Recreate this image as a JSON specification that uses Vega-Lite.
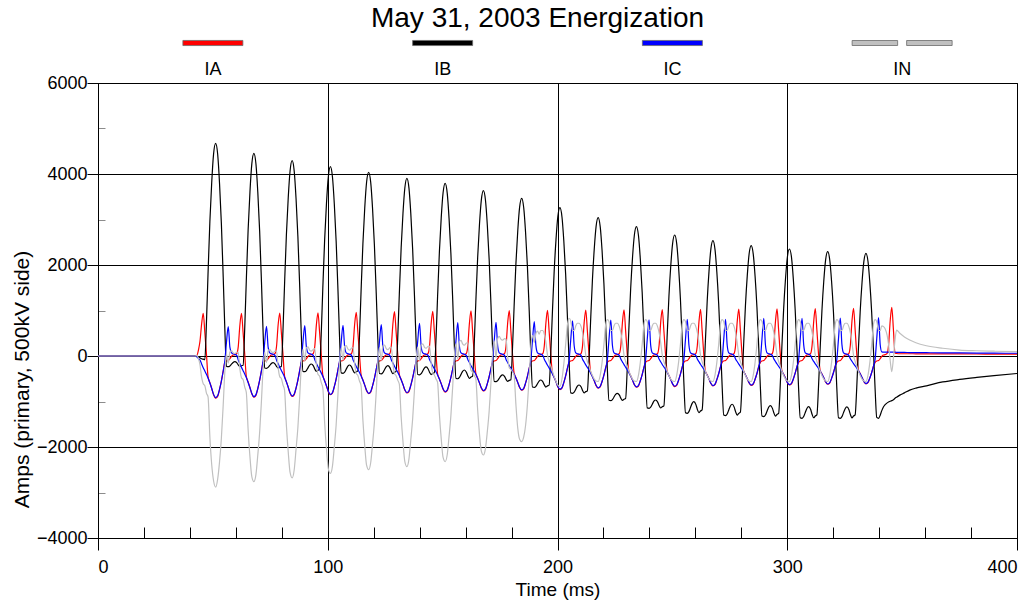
{
"$schema": "https://vega.github.io/schema/vega-lite/v6.json",
"autosize": {"type": "pad"},
"padding": {"left": 10, "top": 5, "right": 0, "bottom": 0},
"background": "white",
"bounds": "flush",
"title": {"text": "May 31, 2003 Energization", "font": "Liberation Sans", "fontSize": 28, "fontWeight": "normal", "color": "black", "anchor": "middle", "frame": "group", "offset": 5, "dx": -20},
"spacing": 0,
"datasets": {
"wave": [
{"t":0,"IA":0,"IB":0,"IC":0,"IN":0},
{"t":42.5,"IA":0,"IB":0,"IC":0,"IN":0},
{"t":42.9,"IA":0,"IB":-10,"IC":-10,"IN":20},
{"t":43.8,"IA":150,"IB":-20,"IC":-60,"IN":-70},
{"t":44.4,"IA":330,"IB":-40,"IC":-92,"IN":-198},
{"t":45.1,"IA":700,"IB":-60,"IC":-174,"IN":-466},
{"t":45.8,"IA":938,"IB":-70,"IC":-256,"IN":-612},
{"t":46.5,"IA":516,"IB":-80,"IC":-330,"IN":-652},
{"t":47.2,"IA":47,"IB":728,"IC":-403,"IN":-816},
{"t":47.9,"IA":-458,"IB":1822,"IC":-485,"IN":-900},
{"t":48.7,"IA":-586,"IB":2963,"IC":-595,"IN":-1782},
{"t":49.5,"IA":-714,"IB":3819,"IC":-714,"IN":-2391},
{"t":50.3,"IA":-852,"IB":4437,"IC":-843,"IN":-2742},
{"t":51.2,"IA":-925,"IB":4675,"IC":-916,"IN":-2880},
{"t":52.1,"IA":-889,"IB":4430,"IC":-870,"IN":-2700},
{"t":52.9,"IA":-733,"IB":3792,"IC":-733,"IN":-2326},
{"t":53.7,"IA":-550,"IB":2909,"IC":-550,"IN":-1809},
{"t":54.5,"IA":-330,"IB":1732,"IC":-330,"IN":-1072},
{"t":55.2,"IA":-140,"IB":604,"IC":-110,"IN":-354},
{"t":55.9,"IA":-110,"IB":-230,"IC":290,"IN":50},
{"t":56.7,"IA":-100,"IB":-235,"IC":645,"IN":-155},
{"t":57.4,"IA":-60,"IB":-219,"IC":194,"IN":85},
{"t":58.1,"IA":-10,"IB":-180,"IC":70,"IN":120},
{"t":58.8,"IA":20,"IB":-142,"IC":50,"IN":72},
{"t":59.55,"IA":30,"IB":-125,"IC":40,"IN":55},
{"t":60.45,"IA":60,"IB":-152,"IC":10,"IN":82},
{"t":61.05,"IA":207,"IB":-196,"IC":-89,"IN":78},
{"t":61.75,"IA":677,"IB":-230,"IC":-170,"IN":-277},
{"t":62.45,"IA":940,"IB":-213,"IC":-250,"IN":-477},
{"t":63.15,"IA":517,"IB":-202,"IC":-322,"IN":-517},
{"t":63.85,"IA":47,"IB":590,"IC":-393,"IN":-679},
{"t":64.55,"IA":-447,"IB":1661,"IC":-474,"IN":-800},
{"t":65.35,"IA":-572,"IB":2778,"IC":-581,"IN":-1625},
{"t":66.15,"IA":-697,"IB":3617,"IC":-697,"IN":-2223},
{"t":66.95,"IA":-831,"IB":4222,"IC":-822,"IN":-2650},
{"t":67.85,"IA":-903,"IB":4455,"IC":-894,"IN":-2760},
{"t":68.75,"IA":-867,"IB":4219,"IC":-849,"IN":-2600},
{"t":69.55,"IA":-715,"IB":3606,"IC":-715,"IN":-2176},
{"t":70.35,"IA":-536,"IB":2756,"IC":-536,"IN":-1684},
{"t":71.15,"IA":-322,"IB":1624,"IC":-322,"IN":-980},
{"t":71.85,"IA":-140,"IB":538,"IC":-107,"IN":-291},
{"t":72.55,"IA":-110,"IB":-264,"IC":293,"IN":81},
{"t":73.35,"IA":-100,"IB":-270,"IC":650,"IN":-140},
{"t":74.05,"IA":-60,"IB":-251,"IC":195,"IN":116},
{"t":74.75,"IA":-10,"IB":-208,"IC":70,"IN":148},
{"t":75.45,"IA":20,"IB":-164,"IC":50,"IN":94},
{"t":76.2,"IA":30,"IB":-145,"IC":40,"IN":75},
{"t":77.1,"IA":60,"IB":-176,"IC":10,"IN":106},
{"t":77.7,"IA":208,"IB":-226,"IC":-88,"IN":106},
{"t":78.4,"IA":680,"IB":-264,"IC":-167,"IN":-249},
{"t":79.1,"IA":945,"IB":-245,"IC":-246,"IN":-454},
{"t":79.8,"IA":520,"IB":-232,"IC":-317,"IN":-494},
{"t":80.5,"IA":47,"IB":537,"IC":-387,"IN":-633},
{"t":81.2,"IA":-440,"IB":1578,"IC":-466,"IN":-750},
{"t":82.0,"IA":-563,"IB":2664,"IC":-572,"IN":-1529},
{"t":82.8,"IA":-686,"IB":3479,"IC":-686,"IN":-2107},
{"t":83.6,"IA":-818,"IB":4067,"IC":-810,"IN":-2560},
{"t":84.5,"IA":-889,"IB":4293,"IC":-880,"IN":-2680},
{"t":85.4,"IA":-854,"IB":4062,"IC":-836,"IN":-2500},
{"t":86.2,"IA":-704,"IB":3460,"IC":-704,"IN":-2052},
{"t":87.0,"IA":-528,"IB":2626,"IC":-528,"IN":-1570},
{"t":87.8,"IA":-317,"IB":1515,"IC":-317,"IN":-881},
{"t":88.5,"IA":-140,"IB":450,"IC":-106,"IN":-204},
{"t":89.2,"IA":-110,"IB":-337,"IC":300,"IN":147},
{"t":90.0,"IA":-100,"IB":-345,"IC":667,"IN":-111},
{"t":90.7,"IA":-60,"IB":-320,"IC":200,"IN":180},
{"t":91.4,"IA":-10,"IB":-260,"IC":70,"IN":200},
{"t":92.1,"IA":20,"IB":-201,"IC":50,"IN":131},
{"t":92.85,"IA":30,"IB":-176,"IC":40,"IN":106},
{"t":93.75,"IA":60,"IB":-218,"IC":10,"IN":148},
{"t":94.35,"IA":209,"IB":-286,"IC":-84,"IN":161},
{"t":95.05,"IA":684,"IB":-337,"IC":-160,"IN":-187},
{"t":95.75,"IA":950,"IB":-311,"IC":-236,"IN":-403},
{"t":96.45,"IA":523,"IB":-294,"IC":-303,"IN":-443},
{"t":97.15,"IA":48,"IB":463,"IC":-371,"IN":-581},
{"t":97.85,"IA":-422,"IB":1488,"IC":-447,"IN":-700},
{"t":98.65,"IA":-540,"IB":2557,"IC":-548,"IN":-1469},
{"t":99.45,"IA":-658,"IB":3359,"IC":-658,"IN":-2043},
{"t":100.25,"IA":-784,"IB":3938,"IC":-776,"IN":-2480},
{"t":101.15,"IA":-851,"IB":4161,"IC":-843,"IN":-2580},
{"t":102.05,"IA":-818,"IB":3934,"IC":-801,"IN":-2420},
{"t":102.85,"IA":-674,"IB":3345,"IC":-674,"IN":-1997},
{"t":103.65,"IA":-506,"IB":2529,"IC":-506,"IN":-1517},
{"t":104.45,"IA":-303,"IB":1442,"IC":-303,"IN":-836},
{"t":105.15,"IA":-140,"IB":399,"IC":-101,"IN":-158},
{"t":105.85,"IA":-110,"IB":-371,"IC":304,"IN":177},
{"t":106.65,"IA":-100,"IB":-380,"IC":675,"IN":-98},
{"t":107.35,"IA":-60,"IB":-353,"IC":203,"IN":210},
{"t":108.05,"IA":-10,"IB":-289,"IC":70,"IN":229},
{"t":108.75,"IA":20,"IB":-225,"IC":50,"IN":155},
{"t":109.5,"IA":30,"IB":-198,"IC":40,"IN":128},
{"t":110.4,"IA":60,"IB":-244,"IC":10,"IN":174},
{"t":111.0,"IA":211,"IB":-316,"IC":-82,"IN":187},
{"t":111.7,"IA":691,"IB":-371,"IC":-156,"IN":-164},
{"t":112.4,"IA":960,"IB":-344,"IC":-230,"IN":-386},
{"t":113.1,"IA":528,"IB":-325,"IC":-295,"IN":-426},
{"t":113.8,"IA":48,"IB":417,"IC":-361,"IN":-550},
{"t":114.5,"IA":-410,"IB":1420,"IC":-435,"IN":-650},
{"t":115.3,"IA":-525,"IB":2467,"IC":-533,"IN":-1409},
{"t":116.1,"IA":-640,"IB":3252,"IC":-640,"IN":-1972},
{"t":116.9,"IA":-763,"IB":3819,"IC":-754,"IN":-2400},
{"t":117.8,"IA":-828,"IB":4037,"IC":-820,"IN":-2500},
{"t":118.7,"IA":-795,"IB":3816,"IC":-779,"IN":-2340},
{"t":119.5,"IA":-656,"IB":3241,"IC":-656,"IN":-1929},
{"t":120.3,"IA":-492,"IB":2445,"IC":-492,"IN":-1461},
{"t":121.1,"IA":-295,"IB":1383,"IC":-295,"IN":-793},
{"t":121.8,"IA":-140,"IB":366,"IC":-98,"IN":-128},
{"t":122.5,"IA":-110,"IB":-386,"IC":311,"IN":185},
{"t":123.3,"IA":-100,"IB":-395,"IC":690,"IN":-98},
{"t":124.0,"IA":-60,"IB":-367,"IC":207,"IN":220},
{"t":124.7,"IA":-10,"IB":-302,"IC":70,"IN":242},
{"t":125.4,"IA":20,"IB":-238,"IC":50,"IN":168},
{"t":126.15,"IA":30,"IB":-210,"IC":40,"IN":140},
{"t":127.05,"IA":60,"IB":-256,"IC":10,"IN":186},
{"t":127.65,"IA":215,"IB":-330,"IC":-81,"IN":196},
{"t":128.35,"IA":702,"IB":-386,"IC":-153,"IN":-163},
{"t":129.05,"IA":975,"IB":-358,"IC":-225,"IN":-392},
{"t":129.75,"IA":536,"IB":-339,"IC":-290,"IN":-432},
{"t":130.45,"IA":49,"IB":382,"IC":-354,"IN":-531},
{"t":131.15,"IA":-403,"IB":1359,"IC":-427,"IN":-620},
{"t":131.95,"IA":-515,"IB":2377,"IC":-523,"IN":-1339},
{"t":132.75,"IA":-628,"IB":3141,"IC":-628,"IN":-1885},
{"t":133.55,"IA":-749,"IB":3693,"IC":-741,"IN":-2320},
{"t":134.45,"IA":-813,"IB":3905,"IC":-805,"IN":-2430},
{"t":135.35,"IA":-781,"IB":3689,"IC":-765,"IN":-2260},
{"t":136.15,"IA":-644,"IB":3129,"IC":-644,"IN":-1841},
{"t":136.95,"IA":-483,"IB":2352,"IC":-483,"IN":-1386},
{"t":137.75,"IA":-290,"IB":1317,"IC":-290,"IN":-737},
{"t":138.45,"IA":-140,"IB":325,"IC":-97,"IN":-88},
{"t":139.15,"IA":-110,"IB":-408,"IC":323,"IN":195},
{"t":139.95,"IA":-100,"IB":-417,"IC":718,"IN":-100},
{"t":140.65,"IA":-60,"IB":-390,"IC":215,"IN":235},
{"t":141.35,"IA":-10,"IB":-328,"IC":70,"IN":268},
{"t":142.05,"IA":20,"IB":-267,"IC":50,"IN":197},
{"t":142.8,"IA":30,"IB":-240,"IC":40,"IN":170},
{"t":143.7,"IA":60,"IB":-284,"IC":10,"IN":214},
{"t":144.3,"IA":216,"IB":-355,"IC":-79,"IN":218},
{"t":145.0,"IA":706,"IB":-408,"IC":-149,"IN":-149},
{"t":145.7,"IA":980,"IB":-382,"IC":-220,"IN":-378},
{"t":146.4,"IA":539,"IB":-364,"IC":-283,"IN":-418},
{"t":147.1,"IA":49,"IB":343,"IC":-345,"IN":-505},
{"t":147.8,"IA":-393,"IB":1300,"IC":-416,"IN":-580},
{"t":148.6,"IA":-502,"IB":2298,"IC":-510,"IN":-1286},
{"t":149.4,"IA":-612,"IB":3046,"IC":-612,"IN":-1822},
{"t":150.2,"IA":-730,"IB":3587,"IC":-722,"IN":-2230},
{"t":151.1,"IA":-793,"IB":3795,"IC":-785,"IN":-2320},
{"t":152.0,"IA":-761,"IB":3581,"IC":-746,"IN":-2170},
{"t":152.8,"IA":-628,"IB":3024,"IC":-628,"IN":-1768},
{"t":153.6,"IA":-471,"IB":2252,"IC":-471,"IN":-1310},
{"t":154.4,"IA":-283,"IB":1224,"IC":-283,"IN":-658},
{"t":155.1,"IA":-140,"IB":238,"IC":-94,"IN":-4},
{"t":155.8,"IA":-110,"IB":-490,"IC":330,"IN":270},
{"t":156.6,"IA":-100,"IB":-500,"IC":733,"IN":-67},
{"t":157.3,"IA":-60,"IB":-471,"IC":220,"IN":311},
{"t":158.0,"IA":-10,"IB":-404,"IC":70,"IN":344},
{"t":158.7,"IA":20,"IB":-337,"IC":50,"IN":267},
{"t":159.45,"IA":30,"IB":-308,"IC":40,"IN":238},
{"t":160.35,"IA":60,"IB":-356,"IC":10,"IN":286},
{"t":160.95,"IA":218,"IB":-433,"IC":-76,"IN":291},
{"t":161.65,"IA":713,"IB":-490,"IC":-144,"IN":-79},
{"t":162.35,"IA":990,"IB":-462,"IC":-213,"IN":-315},
{"t":163.05,"IA":545,"IB":-442,"IC":-274,"IN":-355},
{"t":163.75,"IA":50,"IB":251,"IC":-334,"IN":-430},
{"t":164.45,"IA":-380,"IB":1188,"IC":-403,"IN":-500},
{"t":165.25,"IA":-486,"IB":2167,"IC":-494,"IN":-1187},
{"t":166.05,"IA":-593,"IB":2900,"IC":-593,"IN":-1714},
{"t":166.85,"IA":-707,"IB":3430,"IC":-699,"IN":-2090},
{"t":167.75,"IA":-768,"IB":3634,"IC":-760,"IN":-2176},
{"t":168.65,"IA":-737,"IB":3424,"IC":-722,"IN":-2030},
{"t":169.45,"IA":-608,"IB":2879,"IC":-608,"IN":-1663},
{"t":170.25,"IA":-456,"IB":2125,"IC":-456,"IN":-1213},
{"t":171.05,"IA":-274,"IB":1119,"IC":-274,"IN":-571},
{"t":171.75,"IA":-140,"IB":155,"IC":-91,"IN":76},
{"t":172.45,"IA":-110,"IB":-558,"IC":333,"IN":335},
{"t":173.25,"IA":-100,"IB":-565,"IC":740,"IN":-38},
{"t":173.95,"IA":-60,"IB":-543,"IC":222,"IN":381},
{"t":174.65,"IA":-10,"IB":-491,"IC":70,"IN":431},
{"t":175.35,"IA":20,"IB":-439,"IC":50,"IN":369},
{"t":176.1,"IA":30,"IB":-417,"IC":40,"IN":347},
{"t":177.0,"IA":60,"IB":-454,"IC":10,"IN":384},
{"t":177.6,"IA":220,"IB":-513,"IC":-75,"IN":368},
{"t":178.3,"IA":720,"IB":-558,"IC":-142,"IN":-20},
{"t":179.0,"IA":1000,"IB":-535,"IC":-209,"IN":-256},
{"t":179.7,"IA":550,"IB":-521,"IC":-268,"IN":-296},
{"t":180.4,"IA":50,"IB":157,"IC":-328,"IN":-351},
{"t":181.1,"IA":-373,"IB":1073,"IC":-395,"IN":-420},
{"t":181.9,"IA":-477,"IB":2030,"IC":-484,"IN":-1069},
{"t":182.7,"IA":-581,"IB":2748,"IC":-581,"IN":-1586},
{"t":183.5,"IA":-693,"IB":3266,"IC":-685,"IN":-1830},
{"t":184.4,"IA":-752,"IB":3465,"IC":-745,"IN":-1883},
{"t":185.3,"IA":-723,"IB":3258,"IC":-708,"IN":-1780},
{"t":186.1,"IA":-596,"IB":2719,"IC":-596,"IN":-1527},
{"t":186.9,"IA":-447,"IB":1972,"IC":-447,"IN":-1078},
{"t":187.7,"IA":-268,"IB":977,"IC":-268,"IN":-441},
{"t":188.4,"IA":-140,"IB":23,"IC":-89,"IN":206},
{"t":189.1,"IA":-110,"IB":-682,"IC":340,"IN":452},
{"t":189.9,"IA":-100,"IB":-690,"IC":755,"IN":300},
{"t":190.6,"IA":-60,"IB":-666,"IC":227,"IN":499},
{"t":191.3,"IA":-10,"IB":-609,"IC":70,"IN":549},
{"t":192.0,"IA":20,"IB":-551,"IC":50,"IN":481},
{"t":192.75,"IA":30,"IB":-527,"IC":40,"IN":560},
{"t":193.65,"IA":60,"IB":-568,"IC":10,"IN":560},
{"t":194.25,"IA":221,"IB":-633,"IC":-73,"IN":480},
{"t":194.95,"IA":724,"IB":-682,"IC":-139,"IN":300},
{"t":195.65,"IA":1005,"IB":-657,"IC":-204,"IN":20},
{"t":196.35,"IA":553,"IB":-641,"IC":-263,"IN":-120},
{"t":197.05,"IA":50,"IB":22,"IC":-321,"IN":-220},
{"t":197.75,"IA":-365,"IB":919,"IC":-387,"IN":-330},
{"t":198.55,"IA":-467,"IB":1856,"IC":-475,"IN":-450},
{"t":199.35,"IA":-569,"IB":2558,"IC":-569,"IN":-560},
{"t":200.15,"IA":-679,"IB":3065,"IC":-672,"IN":-640},
{"t":201.05,"IA":-737,"IB":3260,"IC":-730,"IN":-670},
{"t":201.95,"IA":-708,"IB":3056,"IC":-694,"IN":-500},
{"t":202.75,"IA":-584,"IB":2527,"IC":-584,"IN":-170},
{"t":203.55,"IA":-438,"IB":1794,"IC":-438,"IN":250},
{"t":204.35,"IA":-263,"IB":817,"IC":-263,"IN":700},
{"t":205.05,"IA":-140,"IB":-119,"IC":-88,"IN":830},
{"t":205.75,"IA":-110,"IB":-811,"IC":347,"IN":770},
{"t":206.55,"IA":-100,"IB":-820,"IC":770,"IN":560},
{"t":207.25,"IA":-60,"IB":-793,"IC":231,"IN":560},
{"t":207.95,"IA":-10,"IB":-729,"IC":70,"IN":660},
{"t":208.65,"IA":20,"IB":-664,"IC":50,"IN":720},
{"t":209.4,"IA":30,"IB":-637,"IC":40,"IN":720},
{"t":210.3,"IA":60,"IB":-683,"IC":10,"IN":640},
{"t":210.9,"IA":222,"IB":-756,"IC":-70,"IN":520},
{"t":211.6,"IA":727,"IB":-811,"IC":-133,"IN":300},
{"t":212.3,"IA":1010,"IB":-783,"IC":-196,"IN":20},
{"t":213.0,"IA":556,"IB":-765,"IC":-252,"IN":-120},
{"t":213.7,"IA":51,"IB":-118,"IC":-308,"IN":-220},
{"t":214.4,"IA":-350,"IB":757,"IC":-371,"IN":-330},
{"t":215.2,"IA":-448,"IB":1670,"IC":-455,"IN":-430},
{"t":216.0,"IA":-546,"IB":2355,"IC":-546,"IN":-510},
{"t":216.8,"IA":-651,"IB":2850,"IC":-644,"IN":-550},
{"t":217.7,"IA":-707,"IB":3040,"IC":-700,"IN":-560},
{"t":218.6,"IA":-679,"IB":2839,"IC":-665,"IN":-420},
{"t":219.4,"IA":-560,"IB":2317,"IC":-560,"IN":-140},
{"t":220.2,"IA":-420,"IB":1595,"IC":-420,"IN":250},
{"t":221.0,"IA":-252,"IB":632,"IC":-252,"IN":700},
{"t":221.7,"IA":-140,"IB":-292,"IC":-84,"IN":800},
{"t":222.4,"IA":-110,"IB":-974,"IC":356,"IN":760},
{"t":223.2,"IA":-100,"IB":-982,"IC":790,"IN":560},
{"t":223.9,"IA":-60,"IB":-958,"IC":237,"IN":560},
{"t":224.6,"IA":-10,"IB":-901,"IC":70,"IN":660},
{"t":225.3,"IA":20,"IB":-844,"IC":50,"IN":720},
{"t":226.05,"IA":30,"IB":-820,"IC":40,"IN":720},
{"t":226.95,"IA":60,"IB":-861,"IC":10,"IN":640},
{"t":227.55,"IA":223,"IB":-925,"IC":-68,"IN":520},
{"t":228.25,"IA":731,"IB":-974,"IC":-129,"IN":300},
{"t":228.95,"IA":1015,"IB":-950,"IC":-190,"IN":20},
{"t":229.65,"IA":558,"IB":-933,"IC":-245,"IN":-120},
{"t":230.35,"IA":51,"IB":-291,"IC":-299,"IN":-220},
{"t":231.05,"IA":-340,"IB":577,"IC":-360,"IN":-330},
{"t":231.85,"IA":-435,"IB":1483,"IC":-442,"IN":-430},
{"t":232.65,"IA":-530,"IB":2163,"IC":-530,"IN":-510},
{"t":233.45,"IA":-632,"IB":2653,"IC":-626,"IN":-550},
{"t":234.35,"IA":-687,"IB":2842,"IC":-680,"IN":-560},
{"t":235.25,"IA":-660,"IB":2643,"IC":-646,"IN":-420},
{"t":236.05,"IA":-544,"IB":2125,"IC":-544,"IN":-140},
{"t":236.85,"IA":-408,"IB":1408,"IC":-408,"IN":250},
{"t":237.65,"IA":-245,"IB":452,"IC":-245,"IN":700},
{"t":238.35,"IA":-140,"IB":-464,"IC":-82,"IN":800},
{"t":239.05,"IA":-110,"IB":-1141,"IC":358,"IN":760},
{"t":239.85,"IA":-100,"IB":-1150,"IC":795,"IN":560},
{"t":240.55,"IA":-60,"IB":-1123,"IC":239,"IN":560},
{"t":241.25,"IA":-10,"IB":-1059,"IC":70,"IN":660},
{"t":241.95,"IA":20,"IB":-994,"IC":50,"IN":720},
{"t":242.7,"IA":30,"IB":-967,"IC":40,"IN":720},
{"t":243.6,"IA":60,"IB":-1013,"IC":10,"IN":640},
{"t":244.2,"IA":224,"IB":-1086,"IC":-67,"IN":520},
{"t":244.9,"IA":734,"IB":-1141,"IC":-126,"IN":300},
{"t":245.6,"IA":1020,"IB":-1113,"IC":-186,"IN":20},
{"t":246.3,"IA":561,"IB":-1095,"IC":-239,"IN":-120},
{"t":247.0,"IA":51,"IB":-457,"IC":-293,"IN":-220},
{"t":247.7,"IA":-333,"IB":407,"IC":-352,"IN":-330},
{"t":248.5,"IA":-426,"IB":1308,"IC":-432,"IN":-430},
{"t":249.3,"IA":-519,"IB":1983,"IC":-519,"IN":-510},
{"t":250.1,"IA":-618,"IB":2471,"IC":-612,"IN":-550},
{"t":251.0,"IA":-672,"IB":2659,"IC":-665,"IN":-560},
{"t":251.9,"IA":-645,"IB":2464,"IC":-632,"IN":-420},
{"t":252.7,"IA":-532,"IB":1956,"IC":-532,"IN":-140},
{"t":253.5,"IA":-399,"IB":1253,"IC":-399,"IN":250},
{"t":254.3,"IA":-239,"IB":315,"IC":-239,"IN":700},
{"t":255.0,"IA":-140,"IB":-583,"IC":-80,"IN":800},
{"t":255.7,"IA":-110,"IB":-1247,"IC":363,"IN":760},
{"t":256.5,"IA":-100,"IB":-1260,"IC":806,"IN":560},
{"t":257.2,"IA":-60,"IB":-1222,"IC":242,"IN":560},
{"t":257.9,"IA":-10,"IB":-1132,"IC":70,"IN":660},
{"t":258.6,"IA":20,"IB":-1042,"IC":50,"IN":720},
{"t":259.35,"IA":30,"IB":-1004,"IC":40,"IN":720},
{"t":260.25,"IA":60,"IB":-1068,"IC":10,"IN":640},
{"t":260.85,"IA":226,"IB":-1170,"IC":-65,"IN":520},
{"t":261.55,"IA":738,"IB":-1247,"IC":-124,"IN":300},
{"t":262.25,"IA":1025,"IB":-1209,"IC":-182,"IN":20},
{"t":262.95,"IA":564,"IB":-1183,"IC":-234,"IN":-120},
{"t":263.65,"IA":51,"IB":-551,"IC":-286,"IN":-220},
{"t":264.35,"IA":-325,"IB":304,"IC":-345,"IN":-330},
{"t":265.15,"IA":-416,"IB":1197,"IC":-423,"IN":-430},
{"t":265.95,"IA":-507,"IB":1866,"IC":-507,"IN":-510},
{"t":266.75,"IA":-605,"IB":2349,"IC":-598,"IN":-550},
{"t":267.65,"IA":-657,"IB":2535,"IC":-650,"IN":-560},
{"t":268.55,"IA":-631,"IB":2343,"IC":-618,"IN":-420},
{"t":269.35,"IA":-520,"IB":1845,"IC":-520,"IN":-140},
{"t":270.15,"IA":-390,"IB":1155,"IC":-390,"IN":250},
{"t":270.95,"IA":-234,"IB":235,"IC":-234,"IN":700},
{"t":271.65,"IA":-140,"IB":-646,"IC":-78,"IN":800},
{"t":272.35,"IA":-110,"IB":-1298,"IC":363,"IN":760},
{"t":273.15,"IA":-100,"IB":-1310,"IC":806,"IN":560},
{"t":273.85,"IA":-60,"IB":-1273,"IC":242,"IN":560},
{"t":274.55,"IA":-10,"IB":-1185,"IC":70,"IN":660},
{"t":275.25,"IA":20,"IB":-1098,"IC":50,"IN":720},
{"t":276.0,"IA":30,"IB":-1060,"IC":40,"IN":720},
{"t":276.9,"IA":60,"IB":-1123,"IC":10,"IN":640},
{"t":277.5,"IA":227,"IB":-1223,"IC":-64,"IN":520},
{"t":278.2,"IA":742,"IB":-1298,"IC":-122,"IN":300},
{"t":278.9,"IA":1030,"IB":-1260,"IC":-179,"IN":20},
{"t":279.6,"IA":567,"IB":-1235,"IC":-230,"IN":-120},
{"t":280.3,"IA":52,"IB":-613,"IC":-282,"IN":-220},
{"t":281.0,"IA":-320,"IB":229,"IC":-339,"IN":-330},
{"t":281.8,"IA":-410,"IB":1107,"IC":-416,"IN":-430},
{"t":282.6,"IA":-499,"IB":1766,"IC":-499,"IN":-510},
{"t":283.4,"IA":-595,"IB":2242,"IC":-589,"IN":-550},
{"t":284.3,"IA":-646,"IB":2425,"IC":-640,"IN":-560},
{"t":285.2,"IA":-621,"IB":2238,"IC":-608,"IN":-420},
{"t":286.0,"IA":-512,"IB":1751,"IC":-512,"IN":-140},
{"t":286.8,"IA":-384,"IB":1076,"IC":-384,"IN":250},
{"t":287.6,"IA":-230,"IB":177,"IC":-230,"IN":700},
{"t":288.3,"IA":-140,"IB":-684,"IC":-77,"IN":800},
{"t":289.0,"IA":-110,"IB":-1321,"IC":373,"IN":760},
{"t":289.8,"IA":-100,"IB":-1333,"IC":828,"IN":560},
{"t":290.5,"IA":-60,"IB":-1297,"IC":248,"IN":560},
{"t":291.2,"IA":-10,"IB":-1212,"IC":70,"IN":660},
{"t":291.9,"IA":20,"IB":-1126,"IC":50,"IN":720},
{"t":292.65,"IA":30,"IB":-1090,"IC":40,"IN":720},
{"t":293.55,"IA":60,"IB":-1151,"IC":10,"IN":640},
{"t":294.15,"IA":228,"IB":-1248,"IC":-63,"IN":520},
{"t":294.85,"IA":745,"IB":-1321,"IC":-120,"IN":300},
{"t":295.55,"IA":1035,"IB":-1284,"IC":-176,"IN":20},
{"t":296.25,"IA":569,"IB":-1260,"IC":-227,"IN":-120},
{"t":296.95,"IA":52,"IB":-646,"IC":-277,"IN":-220},
{"t":297.65,"IA":-315,"IB":185,"IC":-334,"IN":-330},
{"t":298.45,"IA":-403,"IB":1052,"IC":-410,"IN":-430},
{"t":299.25,"IA":-491,"IB":1702,"IC":-491,"IN":-510},
{"t":300.05,"IA":-586,"IB":2171,"IC":-580,"IN":-550},
{"t":300.95,"IA":-636,"IB":2352,"IC":-630,"IN":-560},
{"t":301.85,"IA":-611,"IB":2167,"IC":-599,"IN":-420},
{"t":302.65,"IA":-504,"IB":1684,"IC":-504,"IN":-140},
{"t":303.45,"IA":-378,"IB":1017,"IC":-378,"IN":250},
{"t":304.25,"IA":-227,"IB":127,"IC":-227,"IN":700},
{"t":304.95,"IA":-140,"IB":-726,"IC":-76,"IN":800},
{"t":305.65,"IA":-110,"IB":-1357,"IC":374,"IN":760},
{"t":306.45,"IA":-100,"IB":-1370,"IC":830,"IN":560},
{"t":307.15,"IA":-60,"IB":-1331,"IC":249,"IN":560},
{"t":307.85,"IA":-10,"IB":-1242,"IC":70,"IN":660},
{"t":308.55,"IA":20,"IB":-1152,"IC":50,"IN":720},
{"t":309.3,"IA":30,"IB":-1113,"IC":40,"IN":720},
{"t":310.2,"IA":60,"IB":-1177,"IC":10,"IN":640},
{"t":310.8,"IA":229,"IB":-1280,"IC":-62,"IN":520},
{"t":311.5,"IA":749,"IB":-1357,"IC":-117,"IN":300},
{"t":312.2,"IA":1040,"IB":-1319,"IC":-172,"IN":20},
{"t":312.9,"IA":572,"IB":-1293,"IC":-221,"IN":-120},
{"t":313.6,"IA":52,"IB":-683,"IC":-271,"IN":-220},
{"t":314.3,"IA":-308,"IB":141,"IC":-326,"IN":-330},
{"t":315.1,"IA":-394,"IB":1002,"IC":-400,"IN":-430},
{"t":315.9,"IA":-480,"IB":1648,"IC":-480,"IN":-510},
{"t":316.7,"IA":-572,"IB":2114,"IC":-566,"IN":-550},
{"t":317.6,"IA":-621,"IB":2293,"IC":-615,"IN":-560},
{"t":318.5,"IA":-597,"IB":2110,"IC":-584,"IN":-420},
{"t":319.3,"IA":-492,"IB":1636,"IC":-492,"IN":-140},
{"t":320.1,"IA":-369,"IB":979,"IC":-369,"IN":250},
{"t":320.9,"IA":-221,"IB":102,"IC":-221,"IN":700},
{"t":321.6,"IA":-140,"IB":-737,"IC":-74,"IN":800},
{"t":322.3,"IA":-110,"IB":-1358,"IC":376,"IN":760},
{"t":323.1,"IA":-100,"IB":-1370,"IC":835,"IN":560},
{"t":323.8,"IA":-60,"IB":-1333,"IC":251,"IN":560},
{"t":324.5,"IA":-10,"IB":-1245,"IC":70,"IN":660},
{"t":325.2,"IA":20,"IB":-1158,"IC":50,"IN":720},
{"t":325.95,"IA":30,"IB":-1120,"IC":40,"IN":720},
{"t":326.85,"IA":60,"IB":-1183,"IC":10,"IN":640},
{"t":327.45,"IA":231,"IB":-1283,"IC":-61,"IN":520},
{"t":328.15,"IA":756,"IB":-1358,"IC":-115,"IN":300},
{"t":328.85,"IA":1050,"IB":-1320,"IC":-169,"IN":20},
{"t":329.55,"IA":578,"IB":-1295,"IC":-218,"IN":-120},
{"t":330.25,"IA":53,"IB":-691,"IC":-266,"IN":-220},
{"t":330.95,"IA":-303,"IB":125,"IC":-321,"IN":-330},
{"t":331.75,"IA":-387,"IB":978,"IC":-393,"IN":-430},
{"t":332.55,"IA":-472,"IB":1617,"IC":-472,"IN":-510},
{"t":333.35,"IA":-563,"IB":2078,"IC":-557,"IN":-550},
{"t":334.25,"IA":-611,"IB":2256,"IC":-605,"IN":-560},
{"t":335.15,"IA":-587,"IB":2076,"IC":-575,"IN":-420},
{"t":335.95,"IA":-484,"IB":1607,"IC":-484,"IN":-140},
{"t":336.75,"IA":-363,"IB":958,"IC":-363,"IN":250},
{"t":337.55,"IA":-218,"IB":92,"IC":-218,"IN":700},
{"t":338.25,"IA":-140,"IB":-737,"IC":-73,"IN":800},
{"t":338.95,"IA":-110,"IB":-1350,"IC":379,"IN":760},
{"t":339.75,"IA":-100,"IB":-1370,"IC":842,"IN":560},
{"t":340.45,"IA":-60,"IB":-1300,"IC":253,"IN":560},
{"t":341.15,"IA":-10,"IB":-1200,"IC":90,"IN":660},
{"t":341.85,"IA":20,"IB":-1120,"IC":85,"IN":650},
{"t":342.6,"IA":30,"IB":-1070,"IC":85,"IN":600},
{"t":343.5,"IA":60,"IB":-1030,"IC":85,"IN":450},
{"t":344.1,"IA":240,"IB":-1010,"IC":85,"IN":250},
{"t":344.8,"IA":770,"IB":-995,"IC":85,"IN":-100},
{"t":345.5,"IA":1070,"IB":-980,"IC":85,"IN":-345},
{"t":346.2,"IA":590,"IB":-960,"IC":85,"IN":-50},
{"t":346.9,"IA":60,"IB":-930,"IC":85,"IN":350},
{"t":347.6,"IA":55,"IB":-905,"IC":80,"IN":570},
{"t":349.0,"IA":50,"IB":-860,"IC":80,"IN":500},
{"t":351.0,"IA":50,"IB":-810,"IC":80,"IN":420},
{"t":353.3,"IA":50,"IB":-750,"IC":75,"IN":350},
{"t":356.0,"IA":48,"IB":-705,"IC":75,"IN":290},
{"t":360.6,"IA":48,"IB":-655,"IC":72,"IN":225},
{"t":367.7,"IA":46,"IB":-570,"IC":70,"IN":170},
{"t":375.0,"IA":45,"IB":-515,"IC":68,"IN":130},
{"t":382.5,"IA":44,"IB":-470,"IC":65,"IN":115},
{"t":390.0,"IA":42,"IB":-430,"IC":62,"IN":105},
{"t":400.0,"IA":40,"IB":-385,"IC":60,"IN":95}
],
"keys": [{"key":"IA"},{"key":"IB"},{"key":"IC"},{"key":"IN"}]
},
"vconcat": [
{
"width": 919,
"height": 45,
"view": {"stroke": null},
"data": {"name": "keys"},
"encoding": {
"x": {"field": "key", "type": "nominal", "scale": {"type": "point", "padding": 0.5, "domain": ["IA","IB","IC","IN"]}, "axis": null}
},
"layer": [
{
"mark": {"type": "point", "filled": true, "stroke": "#6a6a6a", "strokeWidth": 0.8, "opacity": 1, "yOffset": -17.5},
"encoding": {
"fill": {"field": "key", "type": "nominal", "scale": {"domain": ["IA","IB","IC","IN"], "range": ["#ff0000","#000000","#0000ff","#c0c0c0"]}, "legend": null},
"shape": {"condition": {"test": "datum.key === 'IN'", "value": "M-1,-0.05H-0.09V0.05H-1ZM0.09,-0.05H1V0.05H0.09Z"}, "value": "M-1,-0.085H1V0.085H-1Z"},
"size": {"condition": {"test": "datum.key === 'IN'", "value": 10000}, "value": 3600}
}
},
{
"mark": {"type": "text", "font": "Liberation Sans", "fontSize": 18, "color": "black", "baseline": "middle", "align": "center", "yOffset": 9.5},
"encoding": {"text": {"field": "key"}}
}
]
},
{
"width": 919,
"height": 455,
"view": {"stroke": "black", "strokeWidth": 1},
"data": {"name": "wave"},
"transform": [{"fold": ["IA","IB","IC","IN"], "as": ["key","value"]}],
"mark": {"type": "line", "strokeWidth": 1.2, "interpolate": "monotone", "clip": true},
"encoding": {
"x": {"field": "t", "type": "quantitative", "title": "Time (ms)",
"scale": {"domain": [0,400], "nice": false, "zero": false},
"axis": {"values": [0,20,40,60,80,100,120,140,160,180,200,220,240,260,280,300,320,340,360,380,400],
"format": "d", "labelExpr": "datum.value % 100 === 0 ? datum.label : ''",
"grid": true, "gridColor": "black", "gridWidth": 1,
"gridOpacity": {"condition": {"test": "datum.value % 100 === 0", "value": 1}, "value": 0},
"tickSize": {"condition": {"test": "datum.value % 100 === 0", "value": 12}, "value": -11},
"tickColor": "black", "tickWidth": 1, "domainColor": "black", "domainWidth": 1,
"labelFont": "Liberation Sans", "labelFontSize": 18, "labelColor": "black", "labelPadding": 8,
"titleFont": "Liberation Sans", "titleFontSize": 19, "titleFontWeight": "normal", "titleColor": "black", "titlePadding": 4}},
"y": {"field": "value", "type": "quantitative", "title": "Amps (primary, 500kV side)",
"scale": {"domain": [-4000,6000], "nice": false, "zero": false},
"axis": {"values": [-4000,-3000,-2000,-1000,0,1000,2000,3000,4000,5000,6000],
"format": "d", "labelExpr": "datum.value % 2000 === 0 ? datum.label : ''",
"grid": true, "gridColor": "black", "gridWidth": 1,
"gridOpacity": {"condition": {"test": "datum.value % 2000 === 0", "value": 1}, "value": 0},
"tickSize": {"condition": {"test": "datum.value % 2000 === 0", "value": 11}, "value": -7},
"tickColor": {"condition": {"test": "datum.value % 2000 === 0", "value": "black"}, "value": "#8c8c8c"},
"tickWidth": 1, "domainColor": "black", "domainWidth": 1,
"labelFont": "Liberation Sans", "labelFontSize": 18, "labelColor": "black", "labelPadding": 0,
"titleFont": "Liberation Sans", "titleFontSize": 21, "titleFontWeight": "normal", "titleColor": "black", "titlePadding": 4, "titleY": 296}},
"color": {"field": "key", "type": "nominal", "scale": {"domain": ["IA","IB","IC","IN"], "range": ["#ff0000","#000000","#0000ff","#c0c0c0"]}, "legend": null}
}
}
]
}
